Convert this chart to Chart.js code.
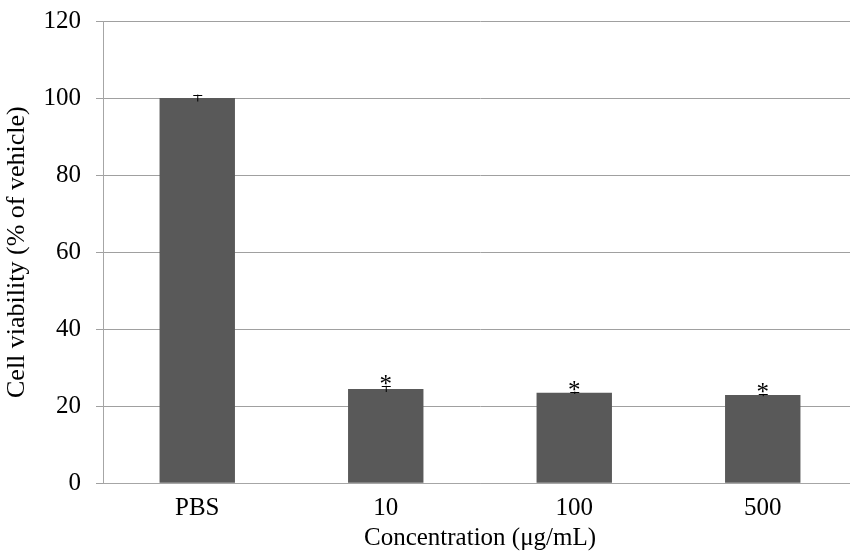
<!DOCTYPE html>
<html>
<head>
<meta charset="utf-8">
<script src="https://cdn.jsdelivr.net/npm/chart.js@4/dist/chart.umd.min.js"></script>
<style>
html,body{margin:0;padding:0;background:#fff;overflow:hidden;}
canvas{display:block;}
</style>
</head>
<body>
<canvas id="c" width="860" height="556"></canvas>
<script>
const categories = ["PBS", "10", "100", "500"];
const viability = [100, 24.5, 23.5, 22.9];
const errors = [0.9, 0.8, 0.3, 0.3];
const significant = [false, true, true, true];
const yTicks = [0, 20, 40, 60, 80, 100, 120];

const FONT = "'Liberation Serif', 'Times New Roman', serif";

const errorBarPlugin = {
  id: 'errorBars',
  afterDatasetsDraw(chart) {
    const ctx = chart.ctx;
    const meta = chart.getDatasetMeta(0);
    const y = chart.scales.y;
    ctx.save();
    meta.data.forEach((bar, i) => {
      const x = bar.x;
      const top = y.getPixelForValue(viability[i] + errors[i]);
      const bot = y.getPixelForValue(viability[i] - errors[i]);
      ctx.strokeStyle = '#000';
      ctx.lineWidth = 1;
      ctx.beginPath();
      ctx.moveTo(x + 0.5, bot);
      ctx.lineTo(x + 0.5, top);
      ctx.moveTo(x - 4, Math.round(top) + 0.5);
      ctx.lineTo(x + 5, Math.round(top) + 0.5);
      ctx.stroke();
      if (significant[i]) {
        ctx.fillStyle = '#000';
        ctx.font = '25px ' + FONT;
        ctx.textAlign = 'center';
        ctx.textBaseline = 'alphabetic';
        ctx.fillText('*', x, top - 6 + 12);
      }
    });
    ctx.restore();
  }
};

new Chart(document.getElementById('c'), {
  type: 'bar',
  data: {
    labels: categories,
    datasets: [{
      data: viability,
      backgroundColor: '#595959',
      borderWidth: 0,
      categoryPercentage: 1.0,
      barPercentage: 0.40
    }]
  },
  options: {
    responsive: false,
    animation: false,
    events: [],
    layout: { padding: { top: 21, left: 0, right: 3, bottom: 0 } },
    plugins: { legend: { display: false }, tooltip: { enabled: false } },
    scales: {
      x: {
        grid: { display: false, drawTicks: false },
        border: { display: true, color: '#a6a6a6', width: 1 },
        ticks: { color: '#000', font: { family: FONT, size: 25 }, padding: 10, maxRotation: 0 },
        title: { display: true, text: 'Concentration (\u03bcg/mL)', color: '#000', font: { family: FONT, size: 25 }, padding: { top: 0, bottom: 3 } },
        afterFit(s) { s.height = 72.7; s.paddingLeft = 0; s.paddingRight = 0; }
      },
      y: {
        min: 0, max: 120,
        afterBuildTicks(s) { s.ticks = yTicks.map(v => ({ value: v })); },
        grid: { color: '#a0a0a0', lineWidth: 1, tickLength: 7, drawTicks: true },
        border: { display: true, color: '#a6a6a6', width: 1 },
        ticks: { color: '#000', font: { family: FONT, size: 25 }, padding: 15 },
        title: { display: true, text: 'Cell viability (% of vehicle)', color: '#000', font: { family: FONT, size: 26 }, padding: { top: 2, bottom: 0 } },
        afterFit(s) { s.width = 103; s.paddingTop = 0; s.paddingBottom = 0; }
      }
    }
  },
  plugins: [errorBarPlugin]
});
</script>
</body>
</html>
